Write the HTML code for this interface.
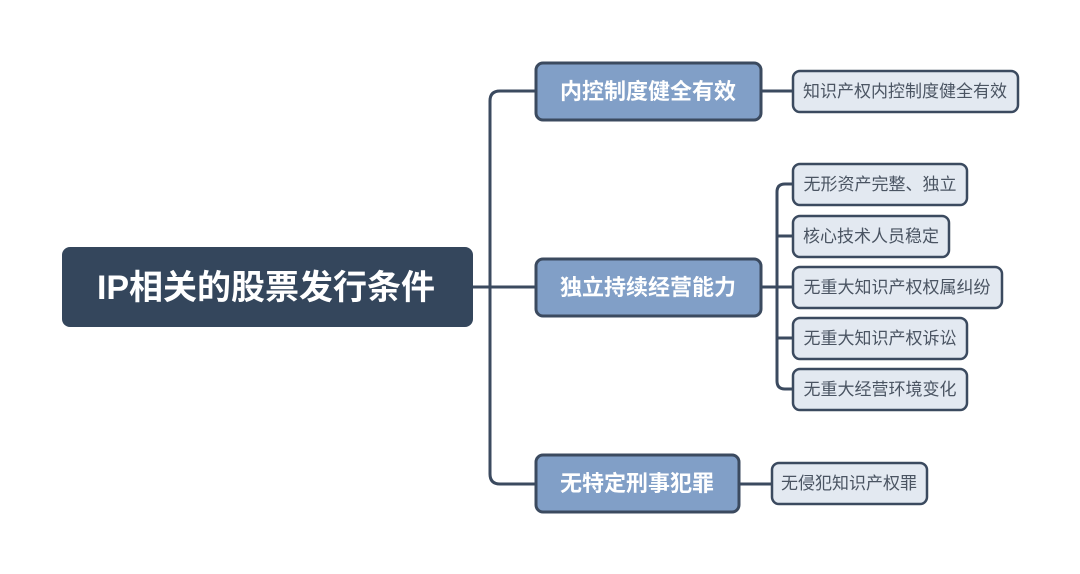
<!DOCTYPE html>
<html><head><meta charset="utf-8"><style>
html,body{margin:0;padding:0;background:#fff;}
svg{display:block}
text{font-family:"Liberation Sans","Noto Sans CJK SC",sans-serif;}
.l1{fill:#fff;font-size:22px;font-weight:bold;}
.lf{fill:#4a5462;font-size:17px;}
</style></head><body>
<svg width="1080" height="574" viewBox="0 0 1080 574" xmlns="http://www.w3.org/2000/svg">
<g fill="none" stroke="#3b4a5f" stroke-width="3">
<path d="M473 287 H536"/>
<path d="M536 91 H500 Q490 91 490 101 V474 Q490 484 500 484 H536"/>
<path d="M761 91 H793"/>
<path d="M761 287 H777"/>
<path d="M793 184 H785 Q777 184 777 192 V381 Q777 389 785 389 H793"/>
<path d="M777 236 H793 M777 287 H793 M777 338 H793"/>
<path d="M739 484 H772"/>
</g>
<rect x="62" y="247" width="411" height="80" rx="8" fill="#34465c"/>
<text x="266" y="299" text-anchor="middle" fill="#fff" font-size="34" font-weight="bold">IP相关的股票发行条件</text>
<g fill="#819fc7" stroke="#3b4a5f" stroke-width="3">
<rect x="536" y="63" width="225" height="57" rx="7"/>
<rect x="536" y="259" width="225" height="57" rx="7"/>
<rect x="536" y="455" width="203" height="57" rx="7"/>
</g>
<text class="l1" x="648" y="99" text-anchor="middle">内控制度健全有效</text>
<text class="l1" x="648" y="295" text-anchor="middle">独立持续经营能力</text>
<text class="l1" x="637" y="491" text-anchor="middle">无特定刑事犯罪</text>
<g fill="#e3e9f1" stroke="#3b4a5f" stroke-width="2.5">
<rect x="793" y="71" width="225" height="41" rx="7"/>
<rect x="793" y="164" width="174" height="41" rx="7"/>
<rect x="793" y="216" width="156" height="41" rx="7"/>
<rect x="793" y="267" width="209" height="41" rx="7"/>
<rect x="793" y="318" width="174" height="41" rx="7"/>
<rect x="793" y="369" width="174" height="41" rx="7"/>
<rect x="772" y="463" width="155" height="41" rx="7"/>
</g>
<text class="lf" x="905" y="97" text-anchor="middle">知识产权内控制度健全有效</text>
<text class="lf" x="880" y="190" text-anchor="middle">无形资产完整、独立</text>
<text class="lf" x="871" y="242" text-anchor="middle">核心技术人员稳定</text>
<text class="lf" x="897" y="293" text-anchor="middle">无重大知识产权权属纠纷</text>
<text class="lf" x="880" y="344" text-anchor="middle">无重大知识产权诉讼</text>
<text class="lf" x="880" y="395" text-anchor="middle">无重大经营环境变化</text>
<text class="lf" x="849" y="489" text-anchor="middle">无侵犯知识产权罪</text>
</svg>
</body></html>
